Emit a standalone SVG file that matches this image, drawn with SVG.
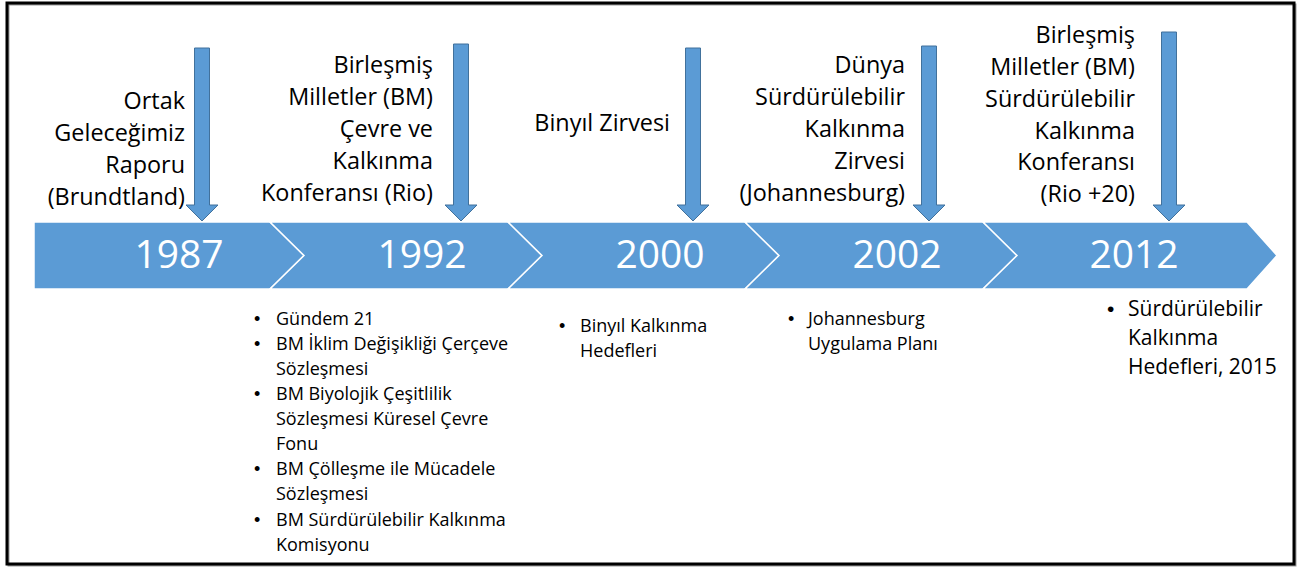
<svg xmlns="http://www.w3.org/2000/svg" width="1303" height="568" viewBox="0 0 1303 568">
<style>
.seg{fill:#5B9BD5;stroke:#FFFFFF;stroke-width:1.5}
.yr{font-family:"Open Sans","Liberation Sans",sans-serif;font-size:39px;fill:#FFFFFF;text-anchor:middle}
.lbl{font-family:"Open Sans","Liberation Sans",sans-serif;font-size:23.4px;fill:#000;text-anchor:end}
.bl{font-family:"Open Sans","Liberation Sans",sans-serif;font-size:18px;fill:#000}
.bl2{font-family:"Open Sans","Liberation Sans",sans-serif;font-size:21px;fill:#000}
.dot{font-family:"Liberation Sans",sans-serif;font-size:18px;fill:#000}
.dot2{font-family:"Liberation Sans",sans-serif;font-size:21px;fill:#000}
.arr{fill:#5B9BD5;stroke:#41719C;stroke-width:1}
</style>
<rect x="0" y="0" width="1303" height="568" fill="#FFFFFF"/>
<rect x="8.5" y="4.5" width="1287" height="561" fill="none" stroke="#9A9A9A" stroke-width="2"/>
<rect x="7" y="3" width="1287" height="561" fill="none" stroke="#000" stroke-width="3"/>

<g id="seg1987">
<polygon class="seg" points="34,222 270,222 304,255.5 270,289 34,289"/>
<text class="yr" x="179" y="268">1987</text>
</g>
<g id="seg1992">
<polygon class="seg" points="270,222 508,222 542,255.5 508,289 270,289 304,255.5"/>
<text class="yr" x="422" y="268">1992</text>
</g>
<g id="seg2000">
<polygon class="seg" points="508,222 745,222 779,255.5 745,289 508,289 542,255.5"/>
<text class="yr" x="660" y="268">2000</text>
</g>
<g id="seg2002">
<polygon class="seg" points="745,222 983,222 1017,255.5 983,289 745,289 779,255.5"/>
<text class="yr" x="897" y="268">2002</text>
</g>
<g id="seg2012">
<polygon class="seg" points="983,222 1247,222 1277,255.5 1247,289 983,289 1017,255.5"/>
<text class="yr" x="1134" y="268">2012</text>
</g>

<g id="connectors">
<path class="arr" d="M194.5,48 H209.5 V205 H218 L202,221 L186,205 H194.5 Z"/>
<path class="arr" d="M453.5,44 H468.5 V205 H477 L461,221 L445,205 H453.5 Z"/>
<path class="arr" d="M685.5,48 H700.5 V205 H709 L693,221 L677,205 H685.5 Z"/>
<path class="arr" d="M921.5,46 H936.5 V205 H945 L929,221 L913,205 H921.5 Z"/>
<path class="arr" d="M1161.5,32 H1176.5 V205 H1185 L1169,221 L1153,205 H1161.5 Z"/>
</g>

<g id="label1987">
<text class="lbl" x="185" y="109">Ortak</text>
<text class="lbl" x="185" y="141">Geleceğimiz</text>
<text class="lbl" x="185" y="173">Raporu</text>
<text class="lbl" x="185" y="205">(Brundtland)</text>
</g>
<g id="label1992">
<text class="lbl" x="433" y="73">Birleşmiş</text>
<text class="lbl" x="433" y="105">Milletler (BM)</text>
<text class="lbl" x="433" y="137">Çevre ve</text>
<text class="lbl" x="433" y="169">Kalkınma</text>
<text class="lbl" x="433" y="201">Konferansı (Rio)</text>
</g>
<g id="label2000">
<text class="lbl" x="670" y="131">Binyıl Zirvesi</text>
</g>
<g id="label2002">
<text class="lbl" x="905" y="73">Dünya</text>
<text class="lbl" x="905" y="105">Sürdürülebilir</text>
<text class="lbl" x="905" y="137">Kalkınma</text>
<text class="lbl" x="905" y="169">Zirvesi</text>
<text class="lbl" x="905" y="201">(Johannesburg)</text>
</g>
<g id="label2012">
<text class="lbl" x="1135" y="43">Birleşmiş</text>
<text class="lbl" x="1135" y="75">Milletler (BM)</text>
<text class="lbl" x="1135" y="107">Sürdürülebilir</text>
<text class="lbl" x="1135" y="139">Kalkınma</text>
<text class="lbl" x="1135" y="170">Konferansı</text>
<text class="lbl" x="1135" y="202">(Rio +20)</text>
</g>

<g id="bullets1992">
<text class="dot" x="254" y="325">•</text><text class="bl" x="276" y="325">Gündem 21</text>
<text class="dot" x="254" y="350">•</text><text class="bl" x="276" y="350">BM İklim Değişikliği Çerçeve</text>
<text class="bl" x="276" y="375">Sözleşmesi</text>
<text class="dot" x="254" y="400">•</text><text class="bl" x="276" y="400">BM Biyolojik Çeşitlilik</text>
<text class="bl" x="276" y="425">Sözleşmesi Küresel Çevre</text>
<text class="bl" x="276" y="450">Fonu</text>
<text class="dot" x="254" y="475">•</text><text class="bl" x="276" y="475">BM Çölleşme ile Mücadele</text>
<text class="bl" x="276" y="500">Sözleşmesi</text>
<text class="dot" x="254" y="526">•</text><text class="bl" x="276" y="526">BM Sürdürülebilir Kalkınma</text>
<text class="bl" x="276" y="551">Komisyonu</text>
</g>
<g id="bullets2000">
<text class="dot" x="559" y="332">•</text><text class="bl" x="580" y="332">Binyıl Kalkınma</text>
<text class="bl" x="580" y="357">Hedefleri</text>
</g>
<g id="bullets2002">
<text class="dot" x="788" y="325">•</text><text class="bl" x="808" y="325">Johannesburg</text>
<text class="bl" x="808" y="350">Uygulama Planı</text>
</g>
<g id="bullets2012">
<text class="dot2" x="1107" y="316">•</text><text class="bl2" x="1128" y="316">Sürdürülebilir</text>
<text class="bl2" x="1128" y="345">Kalkınma</text>
<text class="bl2" x="1128" y="374">Hedefleri, 2015</text>
</g>
</svg>
